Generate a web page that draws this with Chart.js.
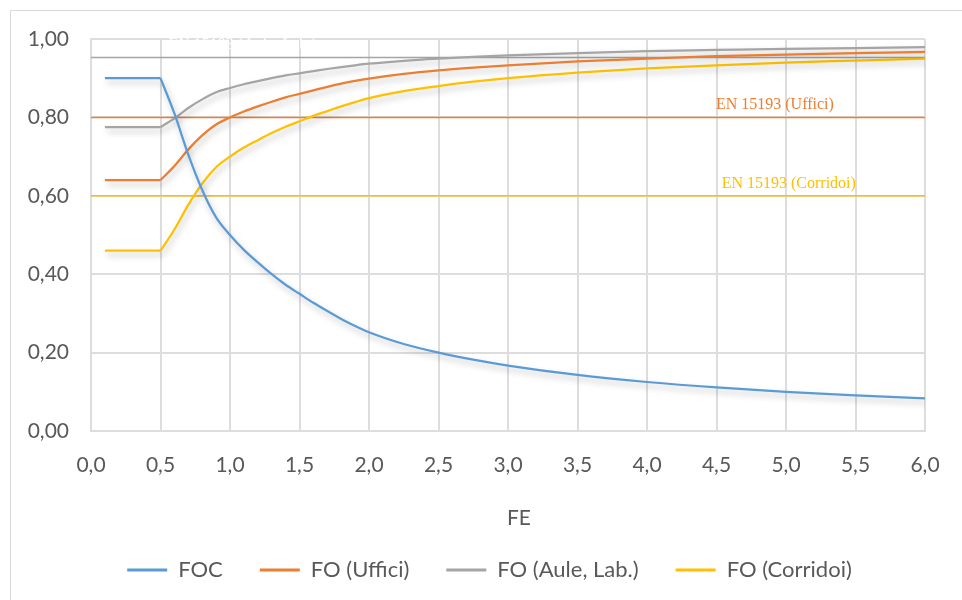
<!DOCTYPE html>
<html><head><meta charset="utf-8">
<script src="https://cdn.jsdelivr.net/npm/chart.js@4.4.1/dist/chart.umd.min.js"></script>
<style>
html,body{margin:0;padding:0;background:#fff;overflow:hidden;width:962px;height:600px;}
#frame{position:absolute;left:10px;top:10px;width:1000px;height:700px;border:1px solid #d9d9d9;box-sizing:border-box;}
#c{position:absolute;left:0;top:0;}
</style></head><body>
<div id="frame"></div>
<canvas id="c" width="962" height="600"></canvas>
<script>
// ---- data ----
const feValues   = [0.1,0.2,0.3,0.4,0.5,0.6,0.7,0.8,0.9,1.0,1.1,1.2,1.3,1.4,1.5,1.6,1.7,1.8,1.9,2.0,2.25,2.5,2.75,3.0,3.5,4.0,4.5,5.0,5.5,6.0];
const focValues  = [0.90,0.90,0.90,0.90,0.90,0.81,0.705,0.615,0.545,0.50,0.462,0.43,0.40,0.373,0.35,0.327,0.306,0.286,0.268,0.252,0.222,0.20,0.182,0.167,0.143,0.125,0.111,0.10,0.091,0.083];
const foUffici   = [0.64,0.64,0.64,0.64,0.64,0.676,0.718,0.754,0.782,0.80,0.815,0.828,0.84,0.851,0.86,0.869,0.878,0.886,0.893,0.899,0.911,0.92,0.927,0.933,0.943,0.95,0.956,0.96,0.964,0.967];
const foAule     = [0.775,0.775,0.775,0.775,0.775,0.7975,0.824,0.846,0.864,0.875,0.8845,0.8925,0.90,0.907,0.9125,0.918,0.9235,0.9285,0.933,0.937,0.9445,0.95,0.9545,0.958,0.964,0.969,0.972,0.975,0.977,0.979];
const foCorridoi = [0.46,0.46,0.46,0.46,0.46,0.514,0.577,0.631,0.673,0.70,0.723,0.742,0.76,0.776,0.79,0.804,0.816,0.828,0.839,0.849,0.867,0.88,0.891,0.90,0.914,0.925,0.933,0.94,0.945,0.95];
const seriesNames = ['FOC','FO (Uffici)','FO (Aule, Lab.)','FO (Corridoi)'];
const refNames  = ['EN 15193 (Aule, Lab.)','EN 15193 (Uffici)','EN 15193 (Corridoi)'];
const refValues = [0.953,0.80,0.60];
const xTickLabels = ['0,0','0,5','1,0','1,5','2,0','2,5','3,0','3,5','4,0','4,5','5,0','5,5','6,0'];
const yTickLabels = ['0,00','0,20','0,40','0,60','0,80','1,00'];
const axisTitle = 'FE';

// ---- styling ----
const seriesColors = ['#5B9BD5','#ED7D31','#A5A5A5','#FFC000'];
const refColors = ['#A5A5A5','#ED7D31','#FFC000'];
const refTextColors = ['#ffffff','#ED7D31','#FFC000'];
const refLabelAt = [1.09, 4.92, 5.02];
const FONT = 'Lato';
const TXT = '#595959';
const GRID = '#dddddd';
const KNEE = 4; // index of FE = 0.5 where the plateau ends

const toPts = arr => arr.map((v,i)=>({x:feValues[i], y:v}));
const seriesData = [focValues, foUffici, foAule, foCorridoi];

const datasets = [];
// smooth parts (shown in legend)
seriesData.forEach((arr,i)=>datasets.push({
  label: seriesNames[i], data: toPts(arr).slice(KNEE),
  borderColor: seriesColors[i], backgroundColor: seriesColors[i],
  borderWidth: 2.25, pointRadius: 0, cubicInterpolationMode:'monotone'
}));
// plateau parts (straight)
seriesData.forEach((arr,i)=>datasets.push({
  label: seriesNames[i]+' ', data: toPts(arr).slice(0, KNEE+1),
  borderColor: seriesColors[i], backgroundColor: seriesColors[i],
  borderWidth: 2.25, pointRadius: 0, tension: 0
}));
refValues.forEach((v,i)=>datasets.push({
  label: refNames[i], data:[{x:0,y:v},{x:6,y:v}],
  borderColor: refColors[i], backgroundColor: refColors[i],
  borderWidth: 1.5, pointRadius:0, tension:0
}));

const decor = {
  id:'decor',
  beforeDatasetDraw(chart,args){
    if(args.index<8){const c=chart.ctx;c.save();c.shadowColor='rgba(0,0,0,0.25)';c.shadowBlur=6;c.shadowOffsetX=2;c.shadowOffsetY=4;}
  },
  afterDatasetDraw(chart,args){ if(args.index<8) chart.ctx.restore(); },
  afterLayout(chart){ if(chart.legend){ chart.legend.left += 22; chart.legend.right += 22; } },
  afterDatasetsDraw(chart){
    const c=chart.ctx, xs=chart.scales.x, ys=chart.scales.y;
    c.save();
    c.font='16px "Liberation Serif", "Times New Roman", serif';
    c.textAlign='center'; c.textBaseline='alphabetic';
    refNames.forEach((t,i)=>{
      c.fillStyle=refTextColors[i];
      c.fillText(t, xs.getPixelForValue(refLabelAt[i]), ys.getPixelForValue(refValues[i])-8);
    });
    c.restore();
  },
  afterDraw(chart){
    const c=chart.ctx;
    c.save();
    c.font='21px '+FONT; c.fillStyle=TXT; c.textAlign='center'; c.textBaseline='middle';
    c.fillText(axisTitle, 519, 518);
    c.restore();
  }
};

new Chart(document.getElementById('c'), {
  type:'line',
  data:{datasets},
  plugins:[decor],
  options:{
    responsive:false, animation:false, devicePixelRatio:1,
    layout:{padding:{left:10, top:39, right:37, bottom:9}},
    plugins:{
      tooltip:{enabled:false},
      legend:{
        position:'bottom',
        labels:{
          font:{family:FONT, size:22}, color:TXT, boxWidth:40, boxHeight:3, padding:37,
          filter:(item)=>item.datasetIndex<4,
          generateLabels:(chart)=>Chart.defaults.plugins.legend.labels.generateLabels(chart).map(l=>({...l, lineWidth:0, fillStyle:l.strokeStyle}))
        }
      }
    },
    scales:{
      x:{type:'linear', min:0, max:6,
        afterFit:(s)=>{s.height=91;},
        ticks:{stepSize:0.5, padding:22, color:TXT, font:{family:FONT,size:21},
          callback:(v,i)=>xTickLabels[i]},
        grid:{color:GRID, lineWidth:2, drawTicks:false},
        border:{color:GRID, width:2}
      },
      y:{min:0, max:1,
        afterFit:(s)=>{s.width=81;},
        ticks:{stepSize:0.2, padding:22, color:TXT, font:{family:FONT,size:21},
          callback:(v,i)=>yTickLabels[i]},
        grid:{color:GRID, lineWidth:2, drawTicks:false},
        border:{color:GRID, width:2}
      }
    }
  }
});
</script>
</body></html>
